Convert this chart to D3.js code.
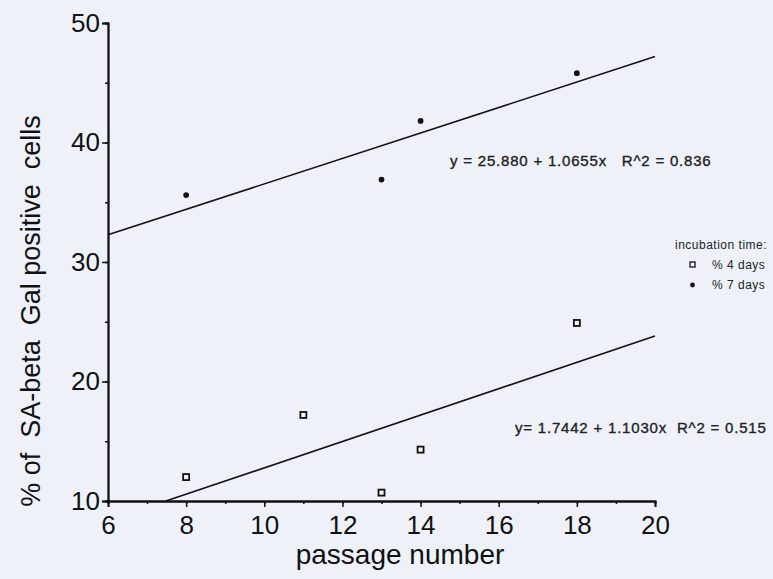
<!DOCTYPE html>
<html>
<head>
<meta charset="utf-8">
<script src="https://cdn.jsdelivr.net/npm/d3@7"></script>
<style>
  body { margin: 0; background: #fff; }
  svg { display: block; font-family: "Liberation Sans", Arial, sans-serif; }
</style>
</head>
<body>
<svg width="773" height="579"></svg>
<script>
// passage number vs % SA-beta Gal positive cells
var passages4 = [8, 11, 13, 14, 18],
    days4 = [12.0, 17.2, 10.7, 14.3, 24.9];
var passages7 = [8, 13, 14, 18],
    days7 = [35.6, 36.9, 41.8, 45.8];
// regression: intercept, slope, x range drawn
var fit4 = [1.7442, 1.1030], fitRange4 = [7.48, 20];
var fit7 = [25.880, 1.0655], fitRange7 = [6, 20];
var xTicks = [6, 8, 10, 12, 14, 16, 18, 20],
    yTicks = [10, 20, 30, 40, 50];

var svg = d3.select("svg");
svg.append("rect").attr("width", 773).attr("height", 579).attr("fill", "#eef2f8");

var x = d3.scaleLinear().domain([6, 20]).range([108, 655]),
    y = d3.scaleLinear().domain([10, 50]).range([501, 23]);

var g = svg.append("g");

// minor ticks
var xAxisMinor = d3.axisBottom(x).tickValues(d3.range(6, 21, 1)).tickSize(3).tickFormat("");
var yAxisMinor = d3.axisLeft(y).tickValues(d3.range(10, 51, 5)).tickSize(3).tickFormat("");
g.append("g").attr("transform", "translate(0,501)").call(xAxisMinor);
g.append("g").attr("transform", "translate(108,0)").call(yAxisMinor);

var xAxis = d3.axisBottom(x).tickValues(xTicks).tickSize(6).tickPadding(9);
var yAxis = d3.axisLeft(y).tickValues(yTicks).tickSize(6).tickPadding(2);
g.append("g").attr("class", "ax").attr("transform", "translate(0,501)").call(xAxis);
g.append("g").attr("class", "ax").attr("transform", "translate(108,0)").call(yAxis);

svg.selectAll(".domain").attr("stroke", "#111").attr("stroke-width", 1.8);
svg.selectAll(".tick line").attr("stroke", "#111").attr("stroke-width", 1.5);
svg.selectAll(".ax .tick text").attr("font-size", 26).attr("fill", "#111")
  .attr("font-family", "Liberation Sans, Arial, sans-serif");

// axis titles
svg.append("text").attr("x", 400).attr("y", 564).attr("text-anchor", "middle")
  .attr("font-size", 28).attr("fill", "#111").text("passage number");
svg.append("text").attr("transform", "translate(40,311) rotate(-90)")
  .attr("text-anchor", "middle").attr("font-size", 27).attr("fill", "#111")
  .attr("xml:space", "preserve")
  .text("% of  SA-beta  Gal positive  cells");

// fit lines
function fitLine(fit, range) {
  return range.map(function(v) { return [x(v), y(fit[0] + fit[1] * v)]; });
}
var line = d3.line();
svg.append("path").attr("d", line(fitLine(fit7, fitRange7)))
  .attr("stroke", "#111").attr("stroke-width", 1.6).attr("fill", "none");
svg.append("path").attr("d", line(fitLine(fit4, fitRange4)))
  .attr("stroke", "#111").attr("stroke-width", 1.6).attr("fill", "none");

// points
svg.selectAll(".p7").data(passages7).enter().append("path")
  .attr("transform", function(d, i) { return "translate(" + x(d) + "," + y(days7[i]) + ")"; })
  .attr("d", d3.symbol().type(d3.symbolCircle).size(26))
  .attr("fill", "#111");
svg.selectAll(".p4").data(passages4).enter().append("rect")
  .attr("x", function(d) { return x(d) - 3; })
  .attr("y", function(d, i) { return y(days4[i]) - 3; })
  .attr("width", 6).attr("height", 6)
  .attr("fill", "#f4f4f4").attr("stroke", "#111").attr("stroke-width", 1.8);

// equations
svg.append("text").attr("x", 450).attr("y", 166).attr("font-size", 15)
  .attr("letter-spacing", 0.8).attr("fill", "#222").attr("stroke", "#222")
  .attr("stroke-width", 0.35).attr("xml:space", "preserve")
  .text("y = 25.880 + 1.0655x   R^2 = 0.836");
svg.append("text").attr("x", 515).attr("y", 433).attr("font-size", 15)
  .attr("letter-spacing", 0.8).attr("fill", "#222").attr("stroke", "#222")
  .attr("stroke-width", 0.35).attr("xml:space", "preserve")
  .text("y= 1.7442 + 1.1030x  R^2 = 0.515");

// legend
svg.append("text").attr("x", 675).attr("y", 249).attr("font-size", 12)
  .attr("letter-spacing", 0.5).attr("fill", "#222").text("incubation time:");
svg.append("rect").attr("x", 690).attr("y", 262).attr("width", 5).attr("height", 5)
  .attr("fill", "none").attr("stroke", "#111").attr("stroke-width", 1.3);
svg.append("text").attr("x", 712).attr("y", 269).attr("font-size", 12)
  .attr("letter-spacing", 0.5).attr("fill", "#222").text("% 4 days");
svg.append("path").attr("transform", "translate(692.5,285)")
  .attr("d", d3.symbol().type(d3.symbolCircle).size(18)).attr("fill", "#111");
svg.append("text").attr("x", 712).attr("y", 289).attr("font-size", 12)
  .attr("letter-spacing", 0.5).attr("fill", "#222").text("% 7 days");
</script>
</body>
</html>
